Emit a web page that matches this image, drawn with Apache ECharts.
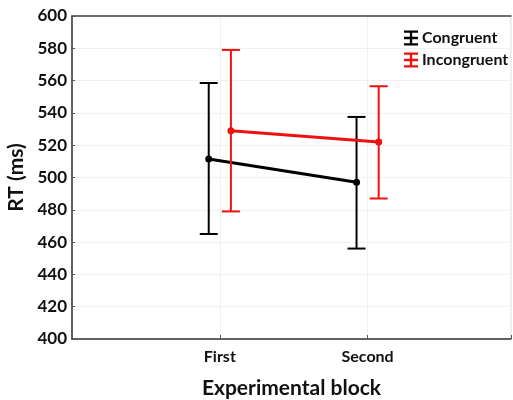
<!DOCTYPE html>
<html><head><meta charset="utf-8">
<script src="https://cdn.jsdelivr.net/npm/echarts@6/dist/echarts.min.js"></script>
<style>html,body{margin:0;padding:0;background:#fff}#c{width:513px;height:400px}</style>
</head><body><div id="c"></div>
<script>
const categories = ['First', 'Second'];
const seriesNames = ['Congruent', 'Incongruent'];
const congruentMean = [511.5, 497];
const congruentLow = [465, 456];
const congruentHigh = [558.5, 537.5];
const incongruentMean = [529, 522];
const incongruentLow = [479, 487];
const incongruentHigh = [579, 556.5];
const yTicks = [400, 420, 440, 460, 480, 500, 520, 540, 560, 580, 600];

const OFFSET = 0.075;
const FONT = 'Lato, "Open Sans", sans-serif';
const colors = ['#000000', '#ee1111'];

function pts(means, off) { return means.map((m, i) => [i + 1 + off, m]); }
function bars(lows, highs, off) { return lows.map((l, i) => [i + 1 + off, l, highs[i]]); }

function errRender(color) {
  return function (params, api) {
    const x = api.value(0);
    const lo = api.coord([x, api.value(1)]);
    const hi = api.coord([x, api.value(2)]);
    const hw = 9;
    const st = { stroke: color, lineWidth: 2 };
    return { type: 'group', children: [
      { type: 'line', shape: { x1: lo[0], y1: lo[1], x2: hi[0], y2: hi[1] }, style: st },
      { type: 'line', shape: { x1: lo[0] - hw, y1: lo[1], x2: lo[0] + hw, y2: lo[1] }, style: st },
      { type: 'line', shape: { x1: hi[0] - hw, y1: hi[1], x2: hi[0] + hw, y2: hi[1] }, style: st }
    ]};
  };
}

const icon = 'path://M0,0H12V2H7V5.5H12V7.5H7V11H12V13H0V11H5V7.5H0V5.5H5V2H0Z';

const chart = echarts.init(document.getElementById('c'));
chart.setOption({
  animation: false,
  textStyle: { fontFamily: FONT },
  grid: { left: 72, right: 2, top: 16, bottom: 61, show: true, borderColor: '#d8d8d8', borderWidth: 1,
    outerBoundsMode: 'none', containLabel: false },
  legend: {
    orient: 'vertical', left: 399, top: 25, itemGap: 6, itemWidth: 14, itemHeight: 16,
    data: seriesNames.map((n, i) => ({ name: n, icon: icon, itemStyle: { color: colors[i] } })),
    textStyle: { fontFamily: FONT, fontWeight: 'bold', fontSize: 16, color: '#111', padding: [0, 0, 0, -1] }
  },
  xAxis: [{
    type: 'value', min: 0, max: 2.97, interval: 1,
    name: 'Experimental block', nameLocation: 'middle', nameGap: 39,
    nameTextStyle: { fontFamily: FONT, fontWeight: 'bold', fontSize: 21, color: '#111' },
    axisLine: { lineStyle: { color: '#333', width: 1.5 } },
    axisTick: { inside: true, length: 4, lineStyle: { color: '#555' } },
    axisLabel: { margin: 10, fontFamily: FONT, fontWeight: 'bold', fontSize: 16, color: '#111',
      formatter: v => (Math.abs(v - Math.round(v)) < 1e-6 && v >= 1 && v <= categories.length) ? categories[Math.round(v) - 1] : '' },
    splitLine: { show: true, lineStyle: { color: '#f0f0f0', width: 1 } }
  }, {
    type: 'value', position: 'top', min: 0, max: 2.97,
    axisLine: { show: true, lineStyle: { color: '#444', width: 1.5 } },
    axisTick: { show: false }, axisLabel: { show: false }, splitLine: { show: false }
  }],
  yAxis: {
    type: 'value', min: yTicks[0], max: yTicks[yTicks.length - 1], interval: yTicks[1] - yTicks[0],
    name: 'RT (ms)', nameLocation: 'middle', nameGap: 44,
    nameTextStyle: { fontFamily: FONT, fontWeight: 'bold', fontSize: 21, color: '#111' },
    axisLine: { show: true, lineStyle: { color: '#333', width: 1.5 } },
    axisTick: { show: true, inside: true, length: 3, lineStyle: { color: '#555' } },
    axisLabel: { margin: 5, fontFamily: FONT, fontWeight: 'bold', fontSize: 17, color: '#111' },
    splitLine: { show: true, lineStyle: { color: '#f0f0f0', width: 1 } }
  },
  series: [
    { name: seriesNames[0], type: 'line', data: pts(congruentMean, -OFFSET), color: colors[0],
      symbol: 'circle', symbolSize: 7, lineStyle: { width: 3 }, z: 3 },
    { type: 'custom', data: bars(congruentLow, congruentHigh, -OFFSET), renderItem: errRender(colors[0]),
      encode: { x: 0, y: [1, 2] }, z: 3 },
    { name: seriesNames[1], type: 'line', data: pts(incongruentMean, OFFSET), color: colors[1],
      symbol: 'circle', symbolSize: 7, lineStyle: { width: 3 }, z: 4 },
    { type: 'custom', data: bars(incongruentLow, incongruentHigh, OFFSET), renderItem: errRender(colors[1]),
      encode: { x: 0, y: [1, 2] }, z: 4 }
  ]
});
</script></body></html>
